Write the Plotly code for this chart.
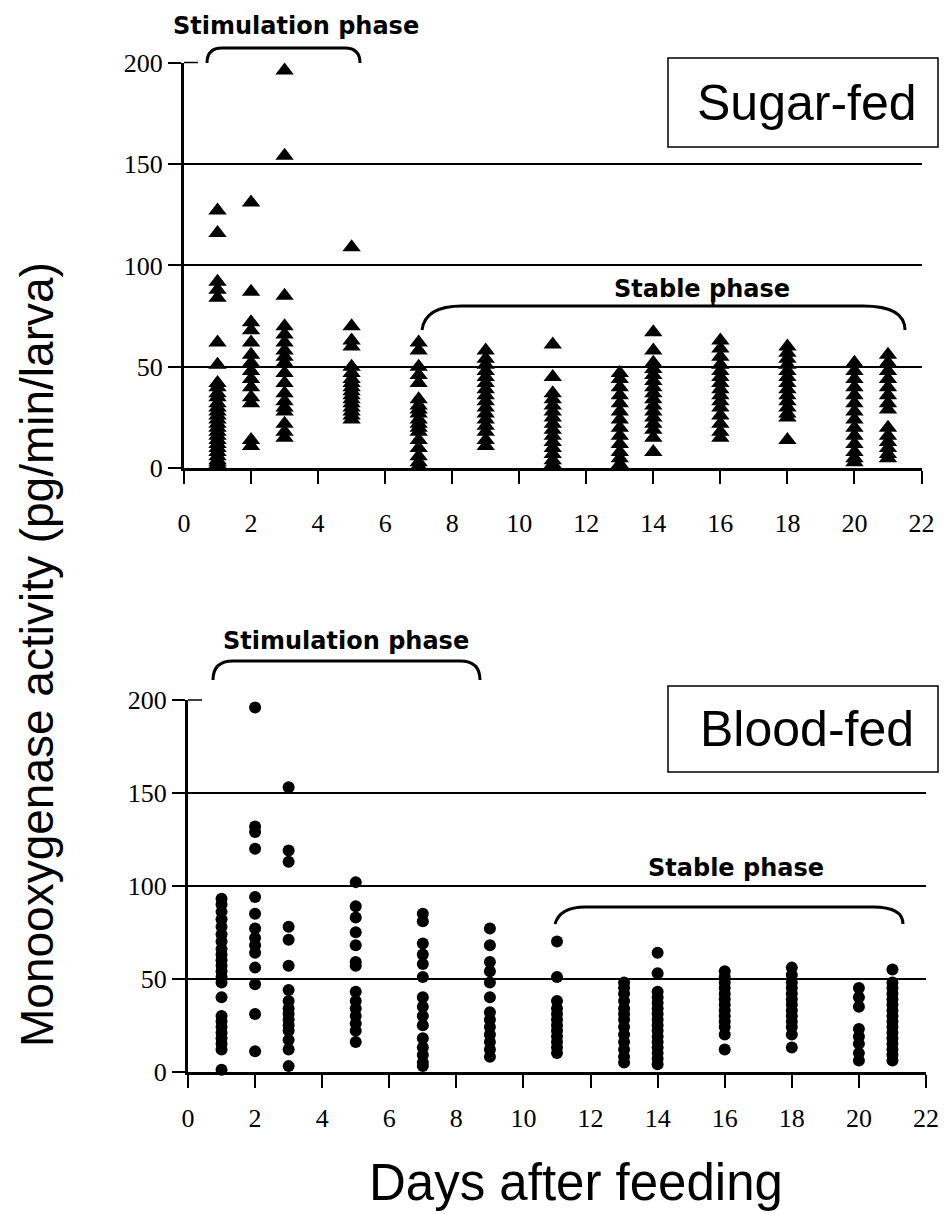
import plotly.graph_objects as go

# ---------------- data ----------------
sugar_days = [1] * 28 + [2] * 14 + [3] * 18 + [5] * 17 + [7] * 18 + [9] * 16 + [11] * 15 + [13] * 13 + [14] * 16 + [16] * 15 + [18] * 14 + [20] * 14 + [21] * 14
sugar_vals = (
    [127, 116, 92, 88, 84, 62, 51, 42, 40, 37, 35, 32, 30, 28, 26, 24, 22, 20, 18, 16, 14, 12, 10, 8, 6, 4, 3, 2]
    + [131, 87, 72, 68, 62, 56, 52, 48, 44, 40, 35, 32, 14, 11]
    + [196, 154, 85, 70, 66, 62, 58, 55, 52, 47, 42, 37, 33, 30, 28, 22, 18, 15]
    + [109, 70, 63, 60, 50, 47, 44, 42, 40, 38, 36, 34, 32, 30, 28, 26, 24]
    + [62, 58, 50, 46, 42, 34, 31, 29, 27, 24, 22, 20, 18, 14, 10, 6, 3, 1]
    + [58, 54, 51, 48, 45, 42, 39, 36, 33, 30, 27, 24, 21, 18, 14, 11]
    + [61, 45, 37, 34, 31, 28, 25, 22, 19, 16, 13, 10, 7, 4, 2]
    + [47, 44, 40, 36, 32, 28, 24, 20, 16, 12, 8, 5, 2]
    + [67, 58, 52, 49, 46, 43, 40, 37, 34, 31, 28, 25, 22, 19, 15, 8]
    + [63, 59, 55, 51, 48, 45, 42, 39, 36, 33, 30, 26, 22, 18, 15]
    + [60, 57, 54, 51, 48, 45, 42, 39, 36, 33, 30, 27, 25, 14]
    + [52, 48, 44, 40, 36, 32, 28, 24, 20, 16, 12, 8, 5, 3]
    + [56, 52, 48, 44, 40, 36, 32, 29, 20, 16, 13, 10, 7, 5]
)

blood_days = [1] * 23 + [2] * 14 + [3] * 16 + [5] * 14 + [7] * 15 + [9] * 13 + [11] * 12 + [13] * 13 + [14] * 16 + [16] * 13 + [18] * 13 + [20] * 8 + [21] * 16
blood_vals = (
    [93, 90, 86, 82, 78, 74, 70, 66, 63, 60, 57, 54, 51, 48, 40, 30, 27, 24, 21, 18, 15, 12, 1]
    + [196, 132, 129, 120, 94, 85, 77, 72, 68, 64, 56, 47, 31, 11]
    + [153, 119, 113, 78, 71, 57, 44, 38, 34, 31, 28, 25, 22, 17, 12, 3]
    + [102, 89, 83, 75, 68, 59, 57, 43, 38, 34, 30, 26, 22, 16]
    + [85, 81, 69, 63, 58, 51, 40, 35, 30, 25, 18, 13, 9, 5, 3]
    + [77, 68, 59, 54, 48, 40, 32, 28, 24, 20, 16, 12, 8]
    + [70, 51, 38, 34, 31, 28, 25, 22, 19, 16, 13, 10]
    + [48, 45, 42, 38, 34, 31, 28, 24, 20, 16, 12, 8, 5]
    + [64, 53, 43, 40, 37, 34, 31, 28, 25, 22, 19, 16, 13, 10, 7, 4]
    + [54, 51, 48, 45, 42, 39, 36, 33, 30, 27, 24, 20, 12]
    + [56, 52, 48, 45, 42, 39, 36, 33, 30, 27, 24, 20, 13]
    + [45, 40, 35, 23, 19, 15, 10, 6]
    + [55, 48, 45, 42, 39, 36, 33, 30, 27, 24, 21, 18, 15, 12, 9, 6]
)

x_ticks = list(range(0, 23, 2))
y_ticks = [0, 50, 100, 150, 200]

# ---------------- layout helpers (page pixel coords -> paper) ----------------
OFF = 8                     # default body margin of the html page
W, H = 947 - OFF, 1214 - OFF
PLOT_L, PLOT_R = 184, 926   # page x of plot area edges
ML = PLOT_L - OFF
MR = (W + OFF) - PLOT_R
PW = W - ML - MR


def px(x):
    return (x - OFF - ML) / PW


def py(y):
    return 1 - (y - OFF) / H


fig = go.Figure()
fig.add_trace(go.Scatter(x=sugar_days, y=sugar_vals, mode="markers",
                         marker=dict(symbol="triangle-up", size=16, color="black"),
                         cliponaxis=False, xaxis="x", yaxis="y", showlegend=False))
fig.add_trace(go.Scatter(x=blood_days, y=blood_vals, mode="markers",
                         marker=dict(symbol="circle", size=12, color="black"),
                         cliponaxis=False, xaxis="x2", yaxis="y2", showlegend=False))

tickfont = dict(family="Liberation Serif", size=26, color="black")
xcommon = dict(range=[0, 22], tickvals=x_ticks, showline=True, linecolor="black", linewidth=3,
               ticks="outside", ticklen=13, tickwidth=2, tickcolor="black", showgrid=False,
               zeroline=False, tickfont=tickfont, automargin=False)
ycommon = dict(range=[0, 200], tickvals=y_ticks, showline=True, linecolor="black", linewidth=3,
               ticks="outside", ticklen=13, tickwidth=1.5, tickcolor="black", showgrid=True,
               gridcolor="black", gridwidth=1.5, zeroline=False, tickfont=tickfont,
               automargin=False)

fig.update_layout(
    template="none",
    width=W, height=H, margin=dict(l=ML, r=MR, t=0, b=0, autoexpand=False),
    paper_bgcolor="white", plot_bgcolor="white",
    xaxis=dict(domain=[0, px(921.5)], anchor="y", ticklabelstandoff=16, **xcommon),
    yaxis=dict(domain=[py(468.3), py(62.5)], anchor="x", **ycommon),
    xaxis2=dict(domain=[px(188), 1], anchor="y2", ticklabelstandoff=8, **xcommon),
    yaxis2=dict(domain=[py(1071.7), py(700)], anchor="x2", **ycommon),
)

bold = dict(family="DejaVu Sans", size=24, color="black", weight="bold")
sans = "Liberation Sans"
ann = [
    ("Stimulation phase", 296, 26, bold, 0),
    ("Stable phase", 702, 289, bold, 0),
    ("Stimulation phase", 346, 641, bold, 0),
    ("Stable phase", 736, 868, bold, 0),
    ("Sugar-fed", 807, 103, dict(family=sans, size=50, color="black"), 0),
    ("Blood-fed", 807, 729, dict(family=sans, size=50, color="black"), 0),
    ("Monooxygenase activity (pg/min/larva)", 37, 655, dict(family=sans, size=46, color="black"), -90),
    ("Days after feeding", 576, 1182, dict(family=sans, size=51, color="black"), 0),
]
for text, x, y, font, ang in ann:
    fig.add_annotation(text=text, x=px(x), y=py(y), xref="paper", yref="paper",
                       showarrow=False, font=font, textangle=ang,
                       xanchor="center", yanchor="middle")


def P(x, y):
    return f"{px(x):.5f},{py(y):.5f}"


brackets = [
    f"M {P(207,63)} Q {P(207,48)} {P(222,48)} L {P(345,48)} Q {P(360,48)} {P(360,63)}",
    f"M {P(213,680)} Q {P(213,661)} {P(233,661)} L {P(460,661)} Q {P(480,661)} {P(480,680)}",
    f"M {P(422,330)} Q {P(425,306)} {P(462,306)} L {P(863,306)} Q {P(905,306)} {P(905,330)} M {P(713,306)} L {P(713,297)}",
    f"M {P(555,924)} Q {P(560,907)} {P(585,907)} L {P(873,907)} Q {P(903,907)} {P(903,924)}",
    # short inner part of the tick at 200 on both y axes
    f"M {P(184,62.5)} L {P(198,62.5)}",
    f"M {P(188,700)} L {P(202,700)}",
]
for i, b in enumerate(brackets):
    fig.add_shape(type="path", path=b, xref="paper", yref="paper",
                  line=dict(color="black", width=3 if i < 4 else 1.5))

for (y0, y1) in [(58, 147), (686, 772)]:
    fig.add_shape(type="rect", xref="paper", yref="paper",
                  x0=px(668), x1=px(938), y0=py(y1), y1=py(y0),
                  line=dict(color="black", width=1.5), fillcolor="rgba(0,0,0,0)")

fig.write_html("out.html")
